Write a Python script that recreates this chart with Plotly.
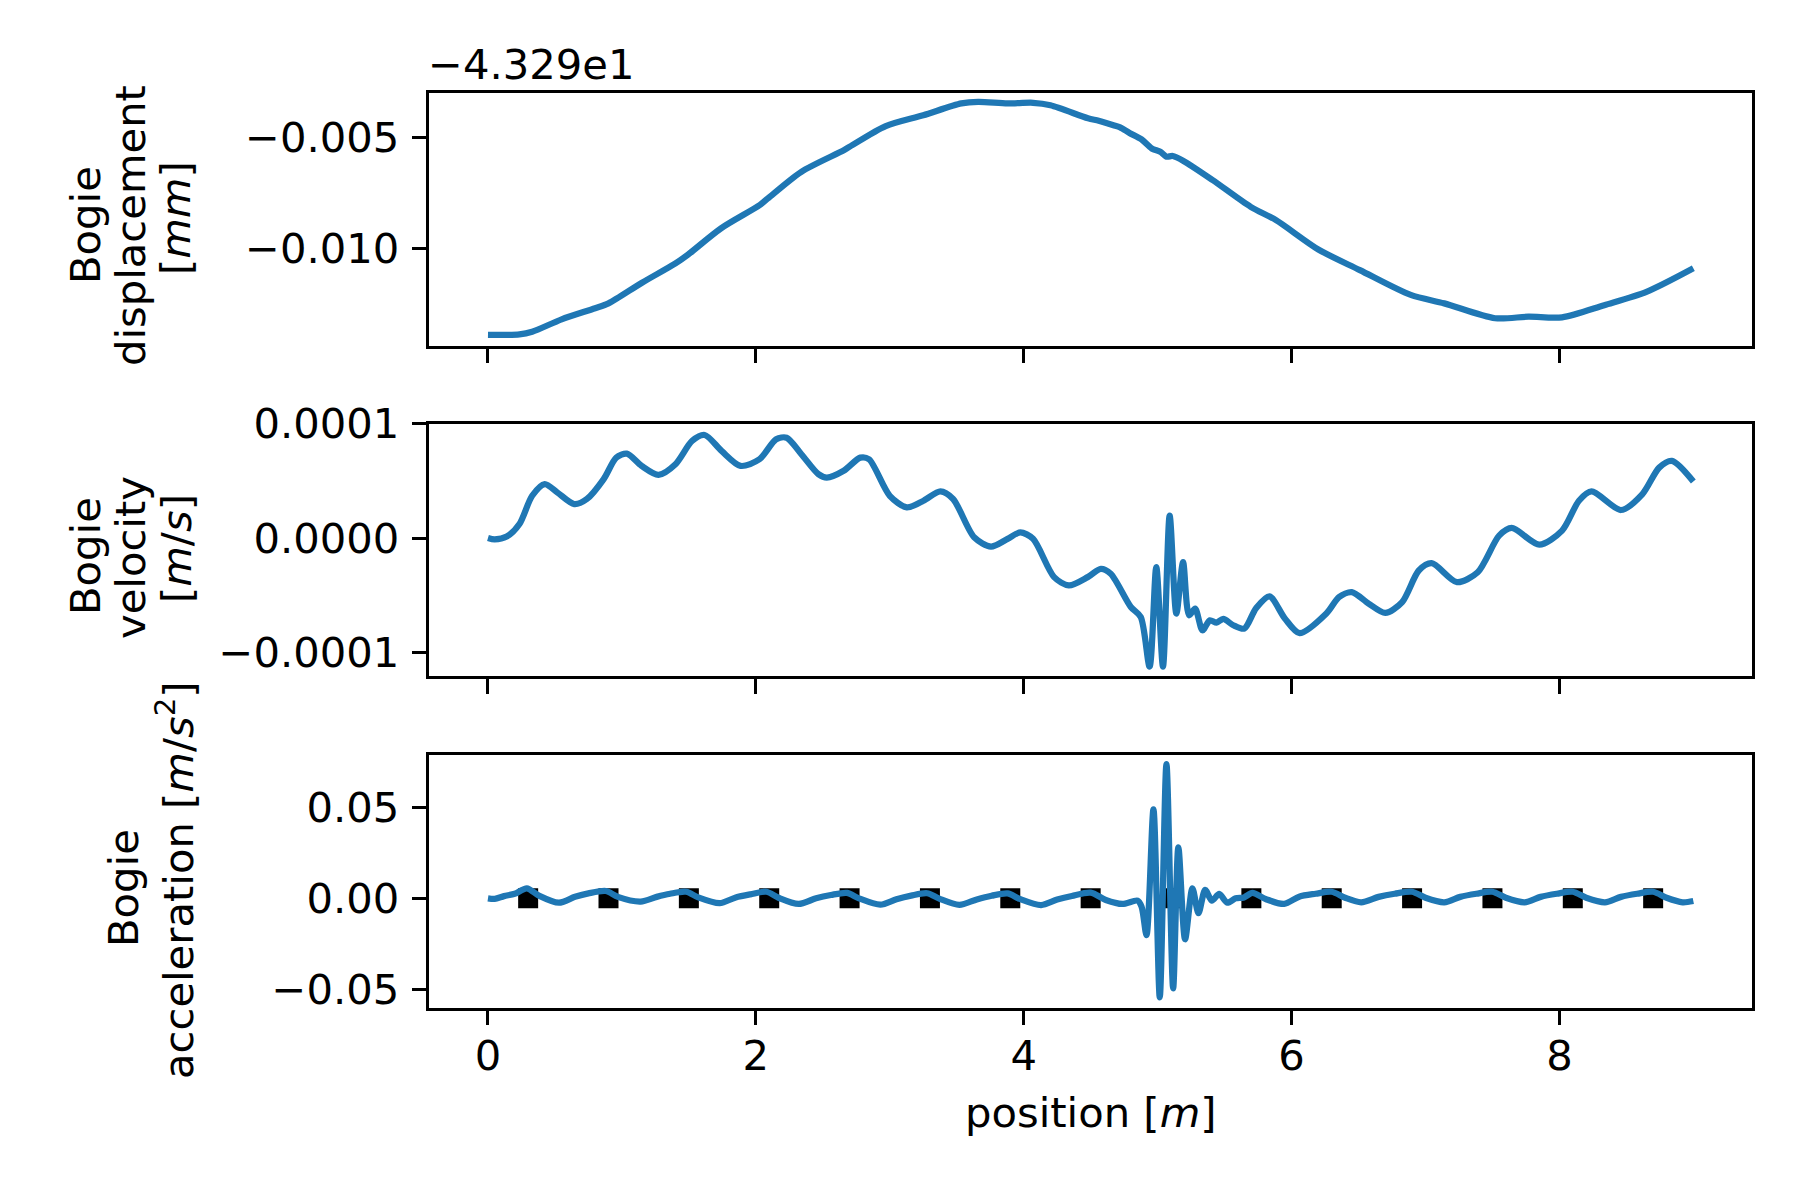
import plotly.graph_objects as go

# ---------------- data ----------------
disp_offset_text = "−4.329e1"   # offset of displacement axis (-43.29)

disp_x = [0.0, 0.235, 0.33, 0.55, 0.80, 0.90, 1.15, 1.40, 1.49, 1.74, 2.03, 2.09,
          2.34, 2.66, 2.72, 2.97, 3.25, 3.535, 3.66, 3.88, 4.07, 4.20, 4.48, 4.56,
          4.67, 4.72, 4.79, 4.88, 4.956, 5.02, 5.066, 5.113, 5.19, 5.41, 5.695,
          5.884, 6.20, 6.51, 6.89, 7.14, 7.52, 7.77, 8.02, 8.335, 8.65, 9.0]
disp_y = [-0.01390, -0.01388, -0.01376, -0.01320, -0.01270, -0.01248, -0.01155,
          -0.01068, -0.01030, -0.00910, -0.00805, -0.00775, -0.00655, -0.00557,
          -0.00535, -0.00449, -0.00400, -0.00347, -0.00340, -0.00347, -0.00344,
          -0.00355, -0.00414, -0.00425, -0.00445, -0.00455, -0.00480, -0.00509,
          -0.00550, -0.00565, -0.00587, -0.00584, -0.00605, -0.00692, -0.00813,
          -0.00873, -0.01005, -0.01098, -0.01210, -0.01248, -0.01315, -0.01308,
          -0.01311, -0.01256, -0.01196, -0.01090]

vel_x = [0.0, 0.05, 0.14, 0.235, 0.33, 0.424, 0.518, 0.644, 0.738, 0.864, 0.958,
         1.037, 1.147, 1.273, 1.40, 1.524, 1.618, 1.744, 1.886, 2.027, 2.152, 2.23,
         2.34, 2.467, 2.53, 2.656, 2.78, 2.845, 3.0, 3.127, 3.252, 3.378, 3.473,
         3.63, 3.756, 3.88, 3.975, 4.07, 4.227, 4.337, 4.478, 4.576, 4.65, 4.80,
         4.874, 4.94, 4.99, 5.04, 5.09, 5.14, 5.19, 5.235, 5.28, 5.335, 5.39, 5.44,
         5.49, 5.565, 5.647, 5.735, 5.835, 5.95, 6.06, 6.26, 6.355, 6.45, 6.575,
         6.70, 6.826, 6.95, 7.046, 7.235, 7.39, 7.55, 7.644, 7.85, 8.02, 8.146,
         8.24, 8.46, 8.62, 8.745, 8.84, 9.0]
vel_y = [0.03e-5, -0.09e-5, 0.15e-5, 1.25e-5, 3.71e-5, 4.73e-5, 4.00e-5, 2.99e-5,
         3.43e-5, 5.17e-5, 7.04e-5, 7.39e-5, 6.32e-5, 5.54e-5, 6.47e-5, 8.50e-5,
         9.02e-5, 7.63e-5, 6.32e-5, 6.90e-5, 8.64e-5, 8.78e-5, 7.34e-5, 5.60e-5,
         5.30e-5, 5.89e-5, 7.04e-5, 6.90e-5, 3.71e-5, 2.70e-5, 3.28e-5, 4.09e-5,
         3.43e-5, 0.09e-5, -0.72e-5, -0.05e-5, 0.52e-5, -0.05e-5, -3.39e-5,
         -4.11e-5, -3.39e-5, -2.66e-5, -3.10e-5, -6.00e-5, -6.87e-5, -11.2e-5,
         -2.52e-5, -11.2e-5, 1.97e-5, -6.57e-5, -2.09e-5, -6.72e-5, -6.14e-5,
         -8.03e-5, -7.16e-5, -7.36e-5, -7.04e-5, -7.59e-5, -7.88e-5, -6.10e-5,
         -5.07e-5, -7.00e-5, -8.28e-5, -6.57e-5, -5.13e-5, -4.70e-5, -5.70e-5,
         -6.52e-5, -5.57e-5, -2.81e-5, -2.17e-5, -3.83e-5, -2.96e-5, 0.23e-5,
         0.90e-5, -0.55e-5, 0.67e-5, 3.28e-5, 4.09e-5, 2.47e-5, 3.86e-5, 6.17e-5,
         6.76e-5, 4.96e-5]

acc_x = [0.0, 0.05, 0.12, 0.20, 0.29, 0.38, 0.53, 0.65, 0.75, 0.88, 0.97, 1.14,
         1.26, 1.36, 1.48, 1.57, 1.73, 1.85, 1.96, 2.08, 2.17, 2.32, 2.45, 2.56,
         2.68, 2.77, 2.93, 3.05, 3.16, 3.28, 3.37, 3.52, 3.65, 3.76, 3.88, 3.97,
         4.13, 4.25, 4.36, 4.50, 4.613, 4.737, 4.85, 4.88, 4.917, 4.969, 5.016,
         5.066, 5.116, 5.155, 5.205, 5.26, 5.305, 5.355, 5.405, 5.46, 5.52, 5.583,
         5.645, 5.708, 5.81, 5.945, 6.057, 6.18, 6.30, 6.40, 6.52, 6.65, 6.77,
         6.90, 7.00, 7.14, 7.26, 7.38, 7.50, 7.60, 7.74, 7.86, 7.98, 8.10, 8.20,
         8.34, 8.46, 8.58, 8.70, 8.80, 8.92, 9.0]
acc_y = [0.0, -0.0003, 0.0012, 0.0025, 0.0055, 0.0015, -0.0024, 0.0008, 0.0027,
         0.0040, 0.0008, -0.0018, 0.0008, 0.0025, 0.0036, 0.0005, -0.0027, 0.0005,
         0.0022, 0.0036, 0.0003, -0.0031, 0.0, 0.0018, 0.0030, 0.0, -0.0035,
         -0.0005, 0.0015, 0.0028, -0.0002, -0.0036, -0.0006, 0.0014, 0.0027,
         -0.0003, -0.0037, -0.0007, 0.0013, 0.0031, -0.0009, -0.0031, -0.0013,
         -0.0046, -0.0202, 0.0489, -0.0544, 0.0738, -0.0495, 0.0280, -0.0225,
         0.0055, -0.0082, 0.0046, -0.0013, 0.0024, -0.0024, 0.0, 0.0005, 0.0030,
         -0.0005, -0.0031, 0.0009, 0.0025, 0.0036, 0.0003, -0.0022, 0.0008, 0.0025,
         0.0036, 0.0003, -0.0022, 0.0008, 0.0025, 0.0036, 0.0003, -0.0022, 0.0008,
         0.0025, 0.0036, 0.0003, -0.0022, 0.0008, 0.0025, 0.0036, 0.0003, -0.0022,
         -0.0015]

marker_x = [0.3, 0.9, 1.5, 2.1, 2.7, 3.3, 3.9, 4.5, 5.1, 5.7, 6.3, 6.9, 7.5, 8.1, 8.7]
marker_y = [0.0, 0.0, 0.0, 0.0, 0.0, 0.0, 0.0, 0.0, 0.0, 0.0, 0.0, 0.0, 0.0, 0.0, 0.0]

x_ticks = [0, 2, 4, 6, 8]
x_ticktext = ["0", "2", "4", "6", "8"]
disp_ticks = [-0.010, -0.005]
disp_ticktext = ["−0.010", "−0.005"]
vel_ticks = [-0.0001, 0.0, 0.0001]
vel_ticktext = ["−0.0001", "0.0000", "0.0001"]
acc_ticks = [-0.05, 0.0, 0.05]
acc_ticktext = ["−0.05", "0.00", "0.05"]

# ---------------- layout helpers ----------------
W, H = 1800, 1200
FONT = "DejaVu Sans"
FS = 41.7
BLUE = "#1f77b4"
LW = 3.3


def inset(lo, hi, length, d=LW / 2):
    s = (hi - lo) / length
    return [lo + d * s, hi - d * s]


def ydom(top, bot):
    return [1 - (bot - LW / 2) / H, 1 - (top + LW / 2) / H]


left_px, right_px = 427.7, 1753.6
xdom = [(left_px + LW / 2) / W, (right_px - LW / 2) / W]
xrange_ = inset(-0.45, 9.45, right_px - left_px)

vel_range = inset(-1.217e-4, 1.011e-4, 255.7)
vel_range[1] = 1.0008e-4   # keep the 0.0001 tick just inside the frame

fig = go.Figure()
line_style = dict(color=BLUE, width=6.25, shape="spline", smoothing=0.8)
fig.add_trace(go.Scatter(x=disp_x, y=disp_y, mode="lines", line=line_style,
                         xaxis="x", yaxis="y", showlegend=False))
fig.add_trace(go.Scatter(x=vel_x, y=vel_y, mode="lines", line=line_style,
                         xaxis="x2", yaxis="y2", showlegend=False))
fig.add_trace(go.Scatter(x=marker_x, y=marker_y, mode="markers",
                         marker=dict(symbol="square", size=18, color="black",
                                     line=dict(color="black", width=2)),
                         xaxis="x3", yaxis="y3", showlegend=False))
fig.add_trace(go.Scatter(x=acc_x, y=acc_y, mode="lines", line=line_style,
                         xaxis="x3", yaxis="y3", showlegend=False))

axis_common = dict(showline=True, linecolor="black", linewidth=LW, mirror=True,
                   ticks="outside", ticklen=14.6, tickwidth=LW, tickcolor="black",
                   showgrid=False, zeroline=False, automargin=False,
                   tickfont=dict(family=FONT, size=FS, color="black"))

xa = dict(axis_common, domain=xdom, range=xrange_, tickvals=x_ticks,
          ticktext=x_ticktext)
fig.update_layout(
    width=W, height=H, margin=dict(l=0, r=0, t=0, b=0, autoexpand=False),
    paper_bgcolor="white", plot_bgcolor="white",
    font=dict(family=FONT, size=FS, color="black"),
    xaxis=dict(xa, anchor="y", showticklabels=False),
    xaxis2=dict(xa, anchor="y2", showticklabels=False),
    xaxis3=dict(xa, anchor="y3", showticklabels=True, ticklabelstandoff=-5),
    yaxis=dict(axis_common, anchor="x", domain=ydom(91, 347.3),
               range=inset(-0.01446, -0.00291, 256.3),
               tickvals=disp_ticks, ticktext=disp_ticktext, ticklabelstandoff=4),
    yaxis2=dict(axis_common, anchor="x2", domain=ydom(422, 677.7),
                range=vel_range,
                tickvals=vel_ticks, ticktext=vel_ticktext, ticklabelstandoff=4),
    yaxis3=dict(axis_common, anchor="x3", domain=ydom(753.3, 1009.3),
                range=inset(-0.061, 0.0797, 256.0),
                tickvals=acc_ticks, ticktext=acc_ticktext, ticklabelstandoff=4),
)


def ann(text, px, py, angle=0, xanchor="center"):
    fig.add_annotation(text=text, x=px / W, y=1 - py / H, xref="paper", yref="paper",
                       showarrow=False, textangle=angle, xanchor=xanchor,
                       yanchor="middle", font=dict(family=FONT, size=FS, color="black"))


# offset text of the displacement axis
ann(disp_offset_text, 426, 64, xanchor="left")
# y labels (one annotation per line)
ann("Bogie", 85, 225, -90)
ann("displacement", 130, 226, -90)
ann("[<i>mm</i>]", 176, 218, -90)
ann("Bogie", 85, 556, -90)
ann("velocity", 130, 558, -90)
ann("[<i>m</i>/<i>s</i>]", 176, 549, -90)
ann("Bogie", 123, 888, -90)
ann("acceleration [<i>m</i>/<i>s</i><sup>2</sup>]", 176, 880, -90)
# x label
ann("position [<i>m</i>]", 1091, 1112)

fig.write_html("out.html")
